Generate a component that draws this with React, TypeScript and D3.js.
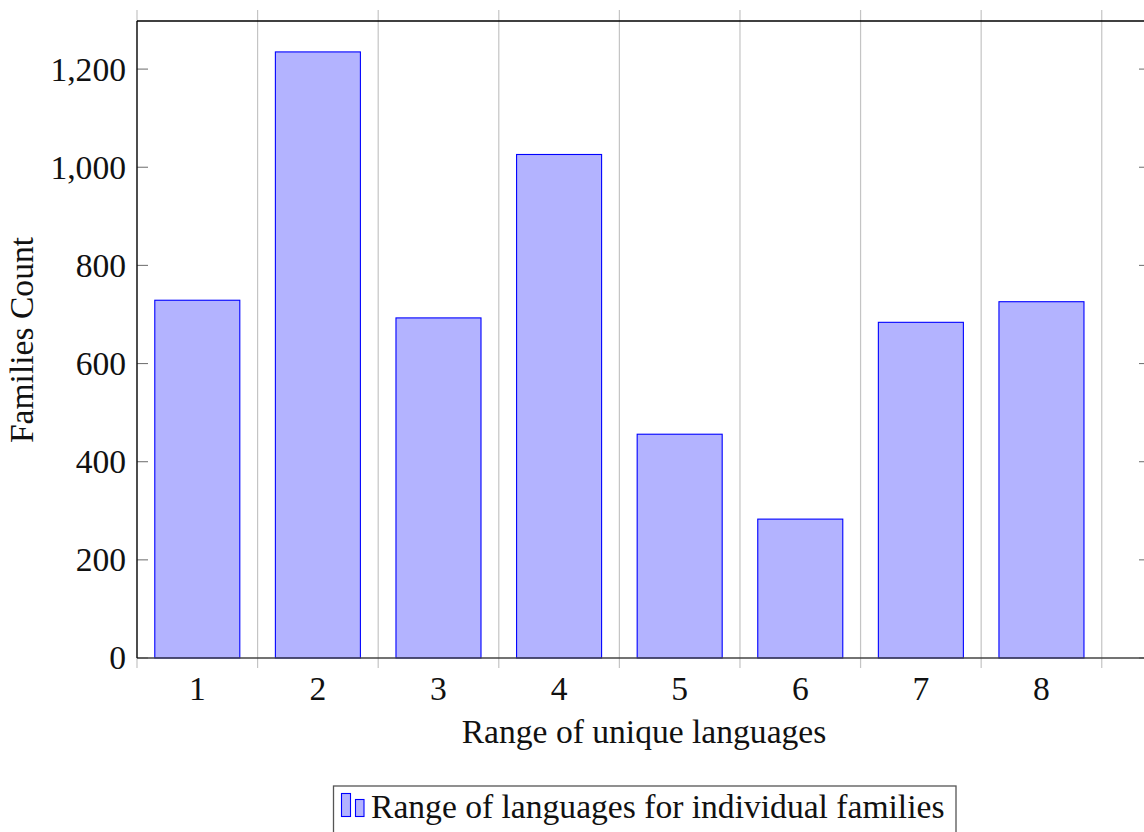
import React from "react";
import * as d3 from "d3";

const categories = [1, 2, 3, 4, 5, 6, 7, 8];
const familiesCount = [729, 1235, 693, 1026, 456, 283, 684, 726];
const yTicks = [0, 200, 400, 600, 800, 1000, 1200];
const gridPositions = [0.5, 1.5, 2.5, 3.5, 4.5, 5.5, 6.5, 7.5, 8.5];
const seriesName = "Range of languages for individual families";
const xTitle = "Range of unique languages";
const yTitle = "Families Count";

const W = 1144;
const H = 832;
const left = 137;
const right = 1150;
const top = 21;
const bottom = 658;
const FONT = "'Liberation Serif', 'Times New Roman', serif";
const FS = 33.6;

export default function App() {
  const x = d3.scaleLinear().domain([0.5, 8.9]).range([left, right]);
  const y = d3.scaleLinear().domain([0, 1298]).range([bottom, top]);
  const fmt = d3.format(",");
  const barW = 0.705 * (x(1) - x(0));

  return (
    <svg
      width={W}
      height={H}
      style={{ position: "absolute", left: 0, top: 0, background: "#fff" }}
      fontFamily={FONT}
    >
      {gridPositions.map((g) => (
        <line
          key={"g" + g}
          x1={x(g)}
          x2={x(g)}
          y1={top - 11}
          y2={bottom + 10}
          stroke="#c4c4c4"
          strokeWidth={1.2}
        />
      ))}
      {categories.map((c, i) => (
        <rect
          key={"b" + c}
          x={x(c) - barW / 2}
          y={y(familiesCount[i])}
          width={barW}
          height={y(0) - y(familiesCount[i])}
          fill="#b3b3ff"
          stroke="#0000ff"
          strokeWidth={1.1}
        />
      ))}
      {yTicks.map((t) => (
        <g key={"y" + t}>
          <line x1={left} x2={left + 11} y1={y(t)} y2={y(t)} stroke="#777" strokeWidth={1.1} />
          <line x1={right - 11} x2={right} y1={y(t)} y2={y(t)} stroke="#777" strokeWidth={1.1} />
          <text
            x={left - 11}
            y={y(t)}
            dy="0.34em"
            textAnchor="end"
            fontSize={FS}
            fill="#111"
          >
            {fmt(t)}
          </text>
        </g>
      ))}
      <line x1={left} x2={right} y1={top} y2={top} stroke="#000" strokeWidth={1.3} />
      <line x1={left} x2={right} y1={bottom} y2={bottom} stroke="#444" strokeWidth={1.3} />
      <line x1={left} x2={left} y1={top} y2={bottom} stroke="#000" strokeWidth={1.3} />
      <line x1={right} x2={right} y1={top} y2={bottom} stroke="#000" strokeWidth={1.3} />
      {categories.map((c) => (
        <text key={"xl" + c} x={x(c)} y={700} textAnchor="middle" fontSize={FS} fill="#111">
          {c}
        </text>
      ))}
      <text x={644} y={743} textAnchor="middle" fontSize={FS} fill="#111">
        {xTitle}
      </text>
      <text
        transform={`translate(33, ${340}) rotate(-90)`}
        textAnchor="middle"
        fontSize={FS}
        fill="#111"
      >
        {yTitle}
      </text>
      <rect x={333.5} y={786} width={622.5} height={60} fill="#fff" stroke="#555" strokeWidth={1.3} />
      <rect x={341.5} y={793.5} width={9} height={23} fill="#b3b3ff" stroke="#0000ff" strokeWidth={1.1} />
      <rect x={355.5} y={799.5} width={8.5} height={17} fill="#b3b3ff" stroke="#0000ff" strokeWidth={1.1} />
      <text x={371} y={818} fontSize={FS} fill="#111">
        {seriesName}
      </text>
    </svg>
  );
}
